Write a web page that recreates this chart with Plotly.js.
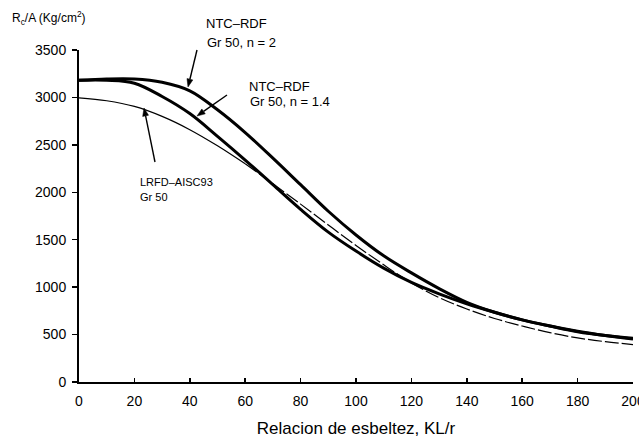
<!DOCTYPE html>
<html>
<head>
<meta charset="utf-8">
<script src="https://cdn.plot.ly/plotly-3.0.1.min.js"></script>
<style>html,body{margin:0;padding:0;background:#fff;}#chart{width:639px;height:439px;}</style>
</head>
<body>
<div id="chart"></div>
<script>
// Slenderness ratio KL/r
const slenderness = [0,10,20,30,40,50,60,70,80,90,100,110,120,130,140,150,160,170,180,190,200];
// NTC-RDF Gr 50, n = 2 (kg/cm2)
const ntcN2 = [3180,3195,3195,3160,3070,2870,2630,2360,2080,1800,1550,1330,1150,985,840,735,655,590,530,490,462];
// NTC-RDF Gr 50, n = 1.4
const ntcN14 = [3180,3180,3150,3010,2830,2590,2340,2080,1820,1580,1380,1200,1050,930,825,735,655,590,535,490,452];
// LRFD-AISC93 Gr 50
const lrfd = [2995,2965,2905,2800,2660,2490,2300,2090,1875,1655,1440,1235,1045,890,770,670,590,520,465,425,395];

const xTicks = [0,20,40,60,80,100,120,140,160,180,200];
const yTicks = [0,500,1000,1500,2000,2500,3000,3500];

const FONT = 'Liberation Sans, Arial, Helvetica, sans-serif';
const split = slenderness.indexOf(60);

const W = 639, H = 439;
const M = {l: 79, r: 6, t: 50, b: 57};
const PW = W - M.l - M.r, PH = H - M.t - M.b;
const px = v => (v - M.l) / PW;           // pixel x -> paper x
const py = v => (H - M.b - v) / PH;       // pixel y -> paper y

const traces = [
  {x: slenderness, y: ntcN2, mode: 'lines', line: {color: '#000', width: 3, shape: 'spline', smoothing: 1}, name: 'NTC-RDF n=2'},
  {x: slenderness, y: ntcN14, mode: 'lines', line: {color: '#000', width: 3, shape: 'spline', smoothing: 1}, name: 'NTC-RDF n=1.4'},
  {x: slenderness.slice(0, split + 1), y: lrfd.slice(0, split + 1), mode: 'lines', line: {color: '#000', width: 1.2, shape: 'spline', smoothing: 1}, name: 'LRFD'},
  {x: slenderness.slice(split), y: lrfd.slice(split), mode: 'lines', line: {color: '#000', width: 1.2, shape: 'spline', smoothing: 1, dash: '14px,3px'}, name: 'LRFD'}
];

function label(text, lx, ly, size) {
  return {text: text, x: px(lx), y: py(ly), xref: 'paper', yref: 'paper', xanchor: 'left', yanchor: 'middle', showarrow: false, font: {family: FONT, size: size, color: '#000'}};
}

// arrows drawn as shapes (pixel geometry converted to paper units)
const shapes = [];
function arrow(tailX, tailY, tipX, tipY) {
  const dx = tipX - tailX, dy = tipY - tailY, len = Math.hypot(dx, dy);
  const ux = dx / len, uy = dy / len, hl = 8, hw = 3;
  const bx = tipX - ux * hl, by = tipY - uy * hl;
  shapes.push({type: 'line', xref: 'paper', yref: 'paper', x0: px(tailX), y0: py(tailY), x1: px(bx), y1: py(by), line: {color: '#000', width: 1.4}});
  const p1 = [bx - uy * hw, by + ux * hw], p2 = [bx + uy * hw, by - ux * hw];
  shapes.push({type: 'path', xref: 'paper', yref: 'paper', fillcolor: '#000', line: {color: '#000', width: 0.5},
    path: `M ${px(tipX)},${py(tipY)} L ${px(p1[0])},${py(p1[1])} L ${px(p2[0])},${py(p2[1])} Z`});
}
arrow(197, 50, 188, 87);
arrow(227, 95, 197, 116);
arrow(155, 162, 144, 108);

const layout = {
  width: W, height: H,
  margin: M,
  paper_bgcolor: '#fff', plot_bgcolor: '#fff',
  showlegend: false,
  font: {family: FONT, size: 13, color: '#000'},
  xaxis: {
    range: [0, 200], tickvals: xTicks, ticktext: xTicks.map(String),
    showgrid: false, zeroline: false, showline: true, linecolor: '#000', linewidth: 2,
    ticks: 'inside', ticklen: 4, tickwidth: 1.5, tickcolor: '#000',
    ticklabelstandoff: 5, ticklabeloverflow: 'allow',
    tickfont: {family: FONT, size: 14, color: '#000'},
    title: {text: 'Relacion de esbeltez, KL/r', font: {family: FONT, size: 17, color: '#000'}, standoff: 14}
  },
  yaxis: {
    range: [0, 3500], tickvals: yTicks, ticktext: yTicks.map(String),
    showgrid: false, zeroline: false, showline: true, linecolor: '#000', linewidth: 2,
    ticks: 'outside', ticklen: 5, tickwidth: 1.5, tickcolor: '#000',
    ticklabelstandoff: 3,
    tickfont: {family: FONT, size: 14, color: '#000'}
  },
  shapes: shapes,
  annotations: [
    label('R<sub>c</sub>/A (Kg/cm<sup>2</sup>)', 10, 18, 12),
    label('NTC–RDF', 204, 24, 13),
    label('Gr 50, n = 2', 205, 43, 13),
    label('NTC–RDF', 247, 86, 13),
    label('Gr 50, n = 1.4', 248, 101, 13),
    label('LRFD–AISC93', 138, 182, 11),
    label('Gr 50', 138, 197, 11)
  ]
};

Plotly.newPlot('chart', traces, layout, {displayModeBar: false, staticPlot: true});
</script>
</body>
</html>
